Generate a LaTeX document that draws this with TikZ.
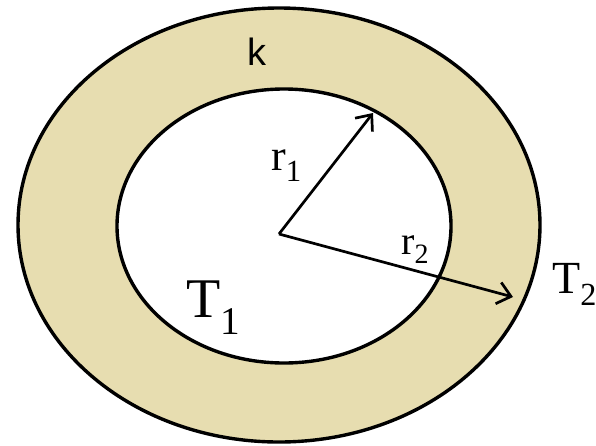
\documentclass[tikz,border=0pt]{standalone}
\usepackage{fontspec}
\setmainfont{Liberation Serif}
\newfontfamily\labelsans{Liberation Sans}
\usetikzlibrary{arrows.meta}
\definecolor{wallfill}{RGB}{231,221,176}
\begin{document}
\begin{tikzpicture}[
		x=1pt, y=-1pt,
		rim/.style={line width=3.4pt, draw=black},
		radius/.style={line width=2.7pt, -{Straight Barb[length=13pt, width=22pt, line width=2.7pt]}},
		lbl/.style={inner sep=0pt, anchor=base west}
		]
		\useasboundingbox (0,0) rectangle (596,445);
		% wall of the cylinder and the hollow core
		\draw[rim, fill=wallfill] (279,225) ellipse [x radius=261, y radius=217];
		\draw[rim, fill=white] (284,226) ellipse [x radius=167, y radius=137];
		
		% radii drawn from the centre
		\coordinate (o) at (279,234);
		\coordinate (p1) at (373,113);
		\coordinate (p2) at (513,297);
		\draw[radius] (o) -- (p1);
		\draw[radius] (o) -- (p2);
		
		% labels
		\node[lbl] (k) at (247,65) {\labelsans\fontsize{38}{38}\selectfont k};
		\node[lbl] (r1) at (271,170) {\fontsize{44}{44}\selectfont r\textsubscript{1}};
		\node[lbl] (r2) at (401,254) {\fontsize{40}{40}\selectfont r\textsubscript{2}};
		\node[lbl] (t1) at (186,317) {\fontsize{56}{56}\selectfont T\textsubscript{1}};
		\node[lbl] (t2) at (552,293) {\fontsize{46}{46}\selectfont T\textsubscript{2}};
	\end{tikzpicture}
\end{document}
